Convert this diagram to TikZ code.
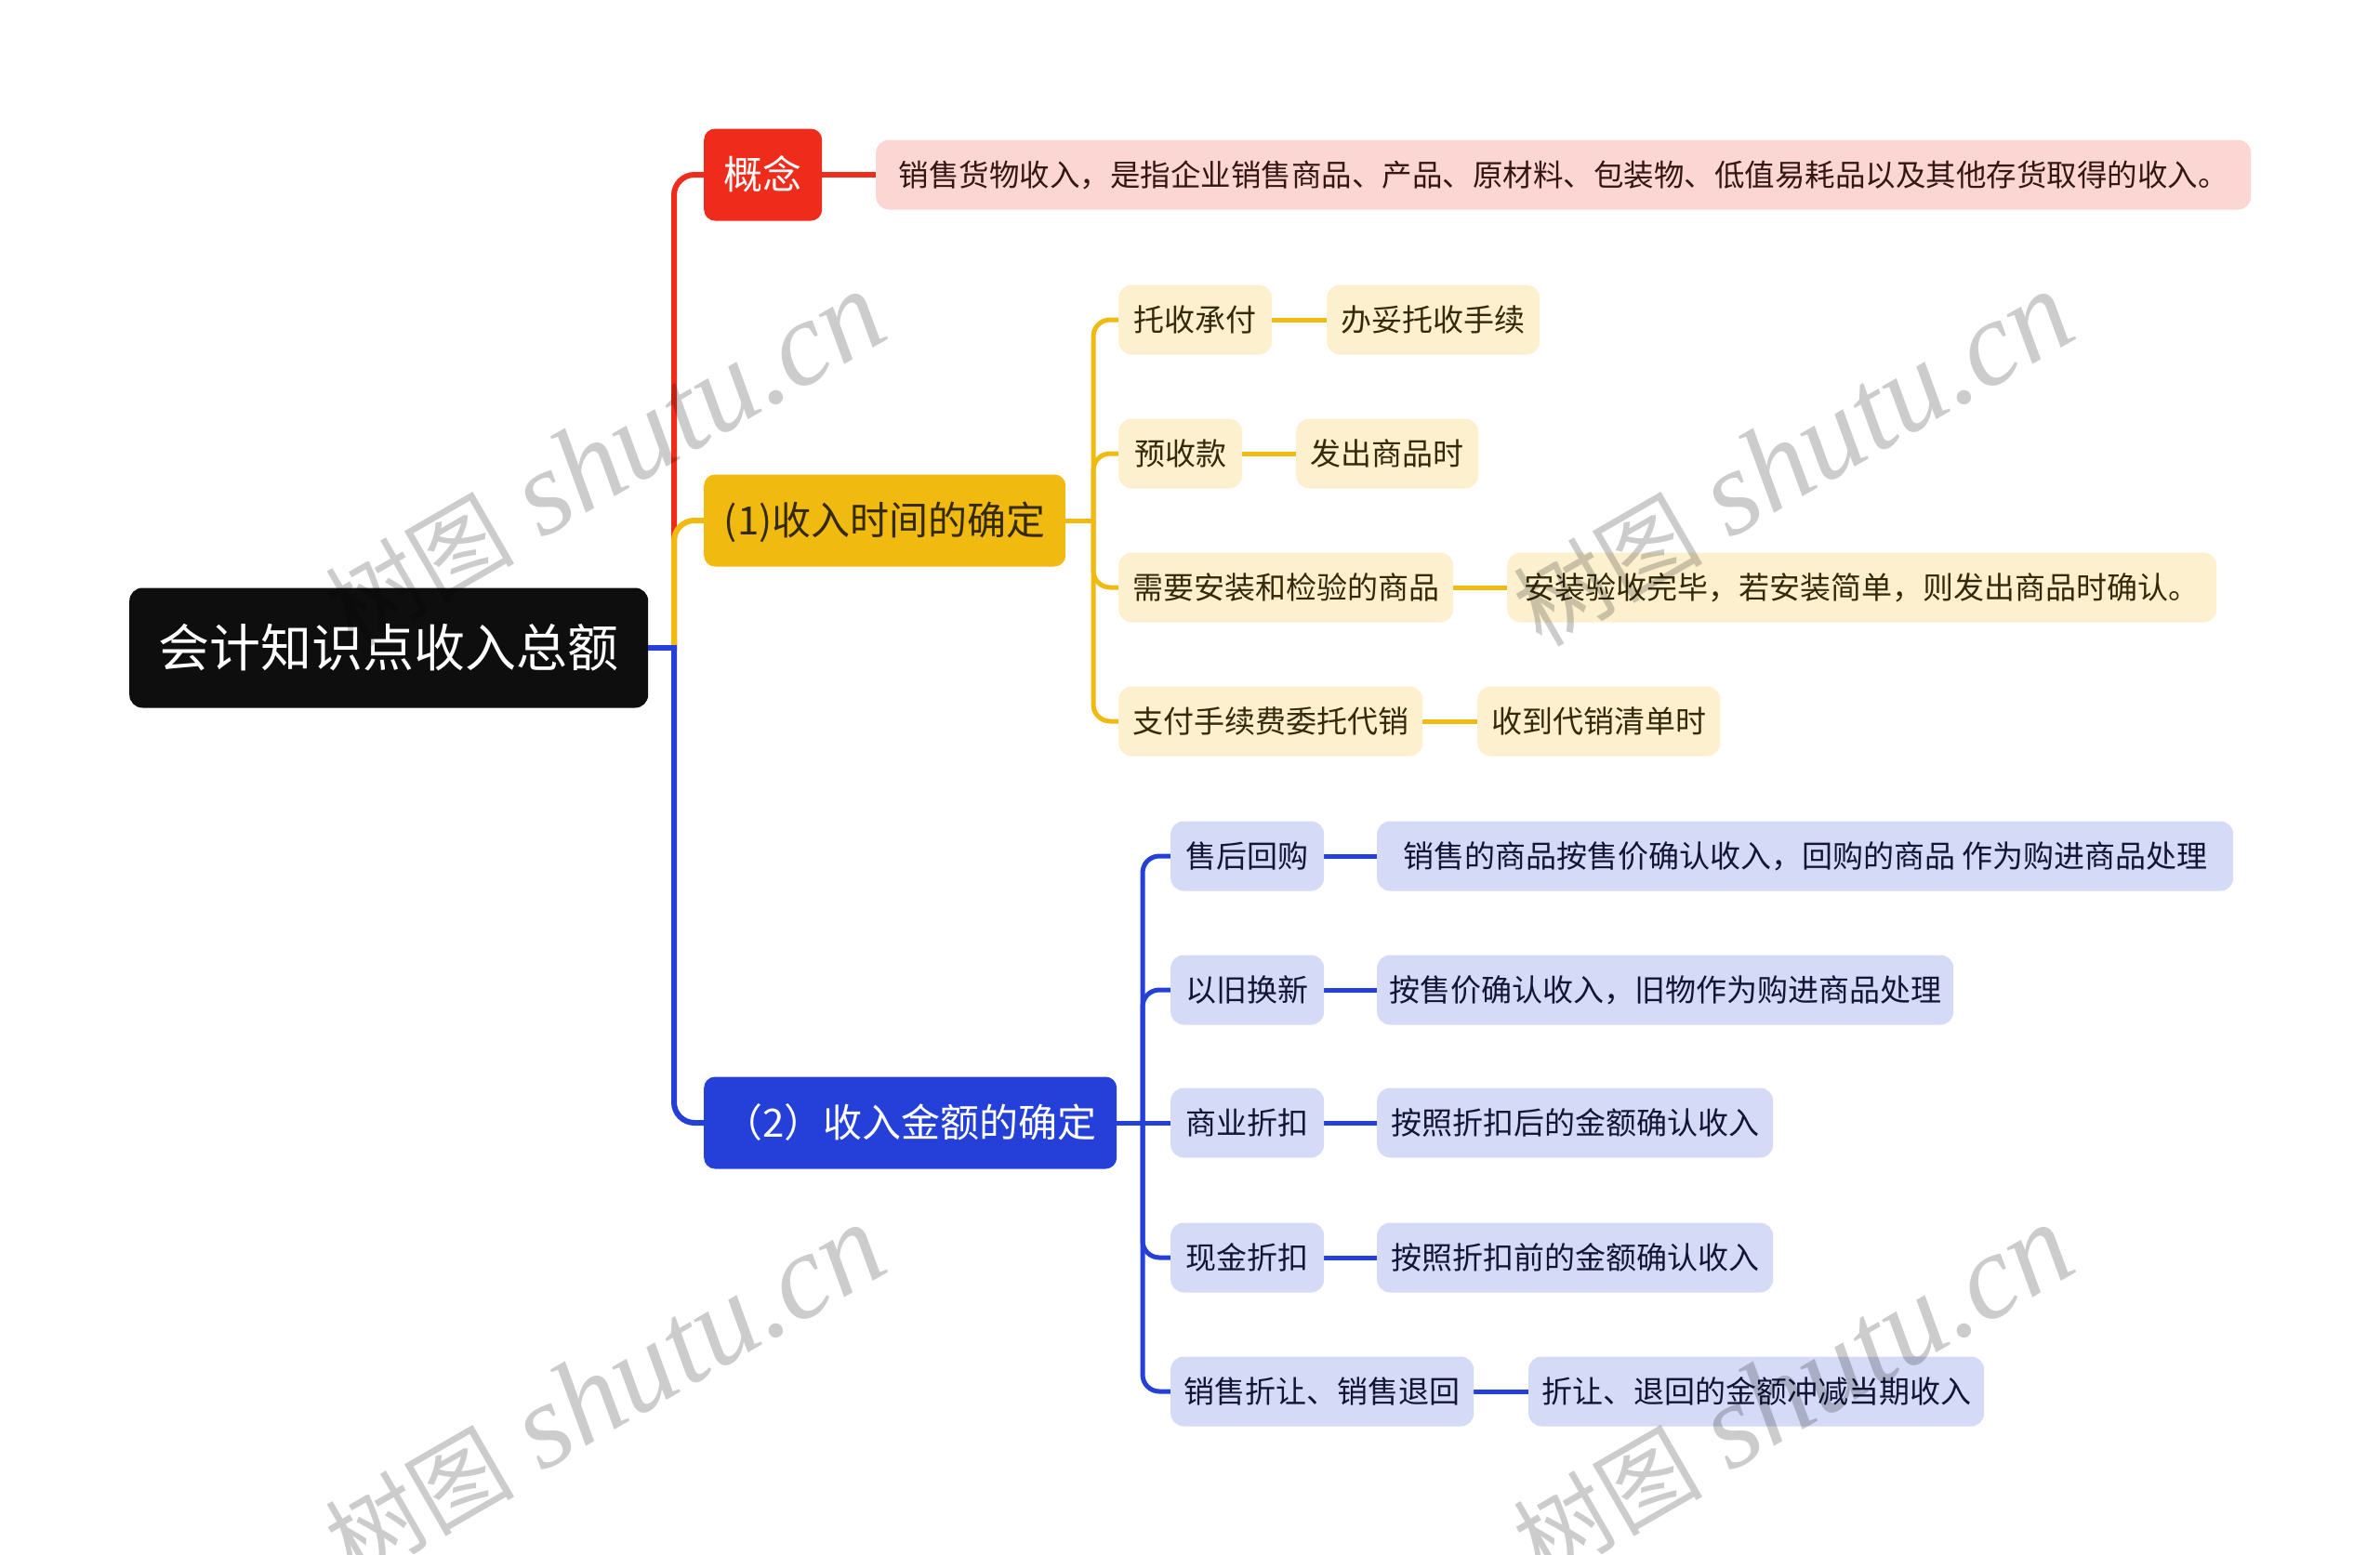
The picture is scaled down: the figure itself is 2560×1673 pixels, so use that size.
\documentclass[tikz,border=0pt]{standalone}
\usepackage{fontspec}
\setmainfont{Noto Sans CJK SC}
\newfontfamily\wmlatin{Liberation Serif}
\usetikzlibrary{calc}
\definecolor{cRoot}{RGB}{14,14,14}
\definecolor{cRed}{RGB}{239,43,27}
\definecolor{cPink}{RGB}{251,214,211}
\definecolor{cPinkTxt}{RGB}{52,22,18}
\definecolor{cYel}{RGB}{240,186,16}
\definecolor{cYelLight}{RGB}{252,240,207}
\definecolor{cYelTxt}{RGB}{52,42,10}
\definecolor{cBlu}{RGB}{37,64,216}
\definecolor{cBluLight}{RGB}{213,218,246}
\definecolor{cBluTxt}{RGB}{18,21,54}
\pgfdeclarelayer{bg}
\pgfsetlayers{bg,main}
\newcommand{\wmtext}{{\fontsize{102}{110}\selectfont 树图}\hspace{30pt}{\wmlatin\itshape\fontsize{130}{140}\selectfont shutu.cn}}
\begin{document}
\begin{tikzpicture}[x=1pt,y=-1pt,
  box/.style={rounded corners=14pt, inner sep=0pt, align=center, anchor=west},
  rootbox/.style={box, fill=cRoot, text=white, font=\fontsize{55}{60}\selectfont, text height=43pt, text depth=3pt, minimum height=129pt},
  lvone/.style={box, font=\fontsize{42}{48}\selectfont, text height=33pt, text depth=2.5pt, minimum height=99pt, rounded corners=12pt},
  leaf/.style={box, font=\fontsize{33}{38}\selectfont, text height=26pt, text depth=2pt, minimum height=75pt},
  yleaf/.style={leaf, fill=cYelLight, text=cYelTxt},
  bleaf/.style={leaf, fill=cBluLight, text=cBluTxt},
  lineone/.style={line width=6pt, rounded corners=22pt, line cap=rect},
  linetwo/.style={line width=5pt, rounded corners=18pt, line cap=rect},
  wm/.style={text=black, text opacity=0.2, rotate=30, inner sep=0pt}
]
\useasboundingbox (0,0) rectangle (2560,1673);

% root and first level
\node[rootbox, minimum width=558pt] (root) at (139,697) {会计知识点收入总额};
\node[lvone, fill=cRed, text=white, minimum width=127pt] (gn) at (757,188) {概念};
\node[lvone, fill=cYel, text=cYelTxt, minimum width=389pt] (t1) at (757,560) {(1)收入时间的确定};
\node[lvone, fill=cBlu, text=white, minimum width=444pt] (t2) at (757,1208) {（2）收入金额的确定};

% concept description
\node[leaf, fill=cPink, text=cPinkTxt, minimum width=1479pt, font=\fontsize{32.5}{38}\selectfont] (gnd) at (942,188) {销售货物收入，是指企业销售商品、产品、原材料、包装物、低值易耗品以及其他存货取得的收入。};

% yellow branch
\node[yleaf, minimum width=165pt] (y1) at (1203,344) {托收承付};
\node[yleaf, minimum width=229pt] (y1d) at (1427,344) {办妥托收手续};
\node[yleaf, minimum width=133pt] (y2) at (1203,488) {预收款};
\node[yleaf, minimum width=196pt] (y2d) at (1394,488) {发出商品时};
\node[yleaf, minimum width=360pt] (y3) at (1203,632) {需要安装和检验的商品};
\node[yleaf, minimum width=763pt] (y3d) at (1621,632) {安装验收完毕，若安装简单，则发出商品时确认。};
\node[yleaf, minimum width=327pt] (y4) at (1203,776) {支付手续费委托代销};
\node[yleaf, minimum width=261pt] (y4d) at (1589,776) {收到代销清单时};

% blue branch
\node[bleaf, minimum width=165pt] (b1) at (1259,921) {售后回购};
\node[bleaf, minimum width=921pt] (b1d) at (1481,921) {销售的商品按售价确认收入，回购的商品 作为购进商品处理};
\node[bleaf, minimum width=165pt] (b2) at (1259,1065) {以旧换新};
\node[bleaf, minimum width=620pt] (b2d) at (1481,1065) {按售价确认收入，旧物作为购进商品处理};
\node[bleaf, minimum width=165pt] (b3) at (1259,1208) {商业折扣};
\node[bleaf, minimum width=426pt] (b3d) at (1481,1208) {按照折扣后的金额确认收入};
\node[bleaf, minimum width=165pt] (b4) at (1259,1353) {现金折扣};
\node[bleaf, minimum width=426pt] (b4d) at (1481,1353) {按照折扣前的金额确认收入};
\node[bleaf, minimum width=326pt] (b5) at (1259,1497) {销售折让、销售退回};
\node[bleaf, minimum width=490pt] (b5d) at (1644,1497) {折让、退回的金额冲减当期收入};

\begin{pgfonlayer}{bg}
  \coordinate (j1) at (725,697);
  \draw[lineone, cRed] (j1) |- (gn.west);
  \draw[lineone, cRed] (gn.east) -- (gnd.west);
  \draw[lineone, cYel] (j1) |- (t1.west);
  \draw[lineone, cBlu] (root.east) -- (j1);
  \draw[lineone, cBlu] (j1) |- (t2.west);

  \coordinate (j2) at (1176,560);
  \draw[linetwo, cYel] (t1.east) -- (j2);
  \foreach \n in {y1,y2,y3,y4}{
    \draw[linetwo, cYel] (j2) |- (\n.west);
    \draw[linetwo, cYel] (\n.east) -- (\n d.west);
  }

  \coordinate (j3) at (1229,1208);
  \draw[linetwo, cBlu] (t2.east) -- (j3);
  \draw[linetwo, cBlu] (j3) -- (b3.west);
  \foreach \n in {b1,b2,b4,b5}{
    \draw[linetwo, cBlu] (j3) |- (\n.west);
  }
  \foreach \n in {b1,b2,b3,b4,b5}{
    \draw[linetwo, cBlu] (\n.east) -- (\n d.west);
  }
\end{pgfonlayer}

% watermarks
\node[wm] (wm1) at (650,494) {\wmtext};
\node[wm] (wm2) at (1928,494) {\wmtext};
\node[wm] (wm3) at (650,1498) {\wmtext};
\node[wm] (wm4) at (1928,1498) {\wmtext};
\end{tikzpicture}
\end{document}
